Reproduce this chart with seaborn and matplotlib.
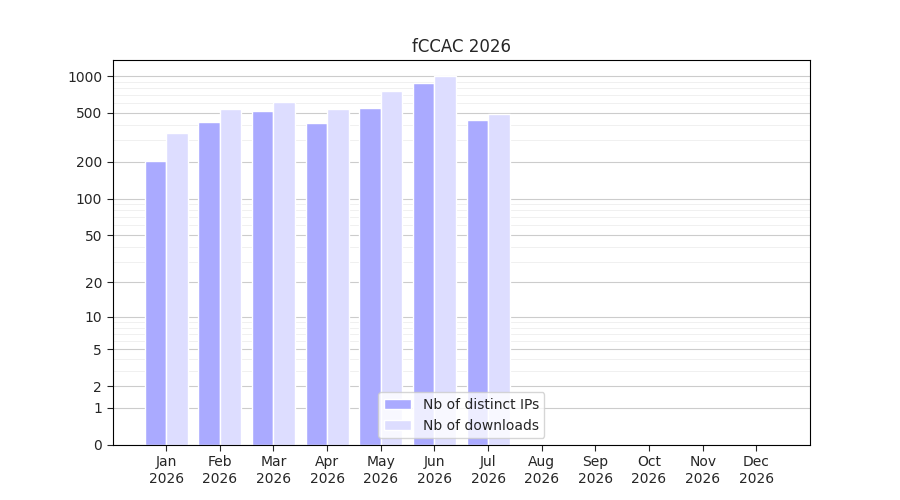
import numpy as np
import pandas as pd
import matplotlib
matplotlib.use("Agg")
import matplotlib.pyplot as plt
import seaborn as sns

months = ["Jan", "Feb", "Mar", "Apr", "May", "Jun", "Jul", "Aug", "Sep", "Oct", "Nov", "Dec"]
distinct_ips = [202, 422, 519, 414, 550, 880, 439, 0, 0, 0, 0, 0]
downloads = [343, 540, 615, 540, 757, 1000, 491, 0, 0, 0, 0, 0]
yticks = [0, 1, 2, 5, 10, 20, 50, 100, 200, 500, 1000]

sns.set_style("white")
plt.rcParams["font.family"] = ["DejaVu Sans"]

labels = [f"{m}\n2026" for m in months]
df = pd.DataFrame({
    "month": labels * 2,
    "value": distinct_ips + downloads,
    "series": ["Nb of distinct IPs"] * 12 + ["Nb of downloads"] * 12,
})

fig, ax = plt.subplots(figsize=(9, 5), dpi=100)
fig.subplots_adjust(left=0.125, right=0.9, top=0.88, bottom=0.11)

ax.set_yscale("function", functions=(lambda v: np.log10(1 + np.clip(v, 0, None)),
                                     lambda v: 10 ** v - 1))
sns.barplot(data=df, x="month", y="value", hue="series", ax=ax,
            palette=["#aaaaff", "#ddddff"], saturation=1, width=0.8, gap=0)

minor = [3, 4, 6, 7, 8, 9] + [v * 10 for v in range(3, 10)] + [v * 100 for v in range(3, 10)]
ax.set_yticks(yticks)
ax.set_yticklabels([str(v) for v in yticks])
ax.set_yticks(minor, minor=True)
ax.tick_params(axis="y", which="minor", length=0)
ax.grid(True, axis="y", which="major", color="#cccccc", linewidth=0.8)
ax.grid(True, axis="y", which="minor", color="#eeeeee", linewidth=0.6)
ax.set_axisbelow(True)
ax.set_ylim(0, 1350)
ax.set_xlim(-1, 12)
ax.tick_params(axis="both", which="major", length=4, left=True, bottom=True)
ax.set_xlabel("")
ax.set_ylabel("")
ax.set_title("fCCAC 2026")
for s in ax.spines.values():
    s.set_color("black")
    s.set_linewidth(0.8)
ax.legend(loc="lower center", title=None, fontsize=10)

fig.savefig("out.png")
